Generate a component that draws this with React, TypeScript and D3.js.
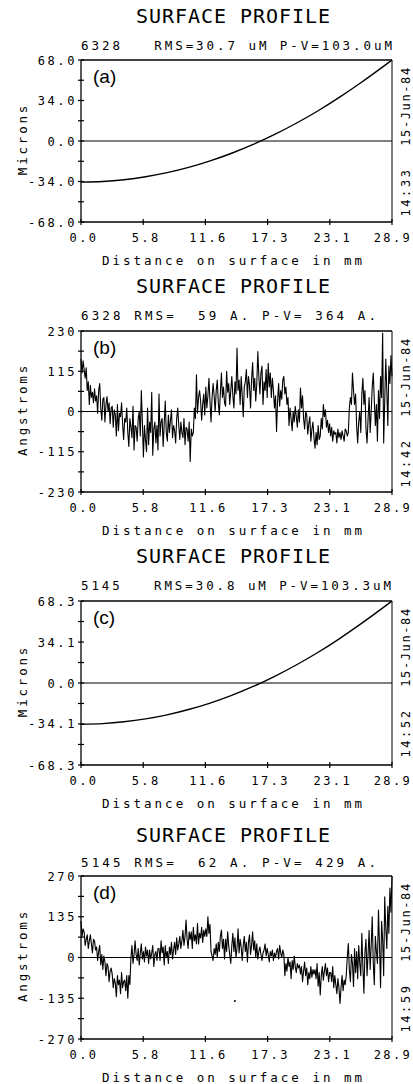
import React from 'react';
import * as d3 from 'd3';

const W = 413;
const H = 1084;
const X_MAX = 28.9;

const xTickValues = [0, 5.78, 11.56, 17.34, 23.12, 28.9];
const xTickLabels = ['0.0', '5.8', '11.6', '17.3', '23.1', '28.9'];

// Panel (a) – 6328, smooth profile (microns)
const aDist = [0, 2, 4, 6, 8, 10, 12, 14, 16, 18, 20, 22, 24, 26, 28.9];
const aMicrons = [-34.5, -34.0, -32.5, -30.0, -26.6, -22.2, -16.7, -10.3, -2.9, 5.5, 14.9, 25.2, 36.6, 48.9, 68.0];
const aYTicks = [68, 34, 0, -34, -68];
const aYLabels = ['68.0', '34.0', '0.0', '-34.0', '-68.0'];

// Panel (c) – 5145, smooth profile (microns)
const cDist = [0, 2, 4, 6, 8, 10, 12, 14, 16, 18, 20, 22, 24, 26, 28.9];
const cMicrons = [-34.3, -33.8, -32.3, -29.9, -26.5, -22.1, -16.7, -10.3, -2.9, 5.6, 15.0, 25.4, 36.8, 49.2, 68.3];
const cYTicks = [68.3, 34.1, 0, -34.1, -68.3];
const cYLabels = ['68.3', '34.1', '0.0', '-34.1', '-68.3'];

// Panel (b) – 6328, residual roughness (angstroms), evenly spaced samples
const bAngstroms = [
  150, 110, 145, 120, 95, 125, 60, 85, 20, 75, 40, 55, 25, 65, 30,
  45, -5, 60, 80, 10, -25, 35, 40, -30, 20, 43, 0, 25, -35, 10,
  15, -45, 5, -10, -70, 20, -55, -5, -15, 25, -35, -80, -20, -30, 10,
  -60, -100, -20, -45, -75, 15, -110, -40, -45, -85, -20, 0, -70, 60, -30,
  -130, -40, -80, -115, 10, -95, -30, -60, 55, -125, -50, -30, -90, -40, -110,
  50, -70, -30, -20, -100, -35, 30, -60, -85, -10, -60, -25, 5, -75, -40,
  -55, -90, -20, 10, -40, -80, -30, -60, -75, -20, -95, -45, -50, -85, -30,
  -143, -50, -70, -60, 10, -20, 105, -5, 40, 60, 30, -25, 20, 50, -10,
  70, 10, 45, 95, 30, -30, 40, 80, 45, 0, 60, 90, 25, -10, 55,
  110, 40, 70, 25, 15, 115, 55, 80, 20, 60, 100, 45, 10, 85, 50,
  181, 60, 90, 20, 100, 45, -15, 70, 85, 120, 40, 100, 75, 10, 90,
  140, 60, 95, 30, 80, 171, 100, 50, 110, 130, 20, 85, 60, 120, 40,
  138, 70, 110, 40, 95, 60, 10, 45, -57, 30, 80, 15, 60, 35, 90,
  100, 50, 70, 20, 40, -40, 10, -20, -55, 0, -30, 15, -15, -45, 5,
  -30, 67, 10, 45, -20, -50, 0, -10, -65, -35, -15, -85, -50, -30, -75,
  -105, -60, -95, -40, -80, -70, -20, -50, 20, -15, 5, -45, -25, -60, -35,
  -70, -45, -85, -55, -65, -60, -90, -50, -75, -60, -80, -55, -70, -85, -50,
  -55, -70, -60, 10, 40, 20, 110, 60, 20, 50, -40, -90, -30, 0, -60,
  50, 95, 20, 60, -50, -90, -20, 40, -60, 0, 70, 110, 30, -40, 20,
  -85, 60, -20, 100, 40, 224, -90, 30, 150, 60, -40, 130, 80, 160, 100,
];
const bYTicks = [230, 115, 0, -115, -230];
const bYLabels = ['230', '115', '0', '-115', '-230'];

// Panel (d) – 5145, residual roughness (angstroms), evenly spaced samples
const dAngstroms = [
  120, 70, 95, 85, 40, 60, 75, 30, 55, 75, 45, 15, 60, 55, 25,
  35, -10, 20, 40, -25, 10, -40, 5, -15, -60, -20, -30, -80, -45, -35,
  -55, -100, -70, -85, -130, -60, -90, -75, -120, -50, -100, -80, -75, -110, -60,
  -135, -60, -90, 0, 40, -20, 10, 55, 10, -10, 30, -25, 15, 45, -5,
  20, -15, 35, 5, 25, -20, 25, -5, 15, 40, -30, 10, 20, -10, 30,
  30, -10, 55, 15, 35, -25, 40, 0, 20, -20, 35, 10, 50, -5, 25,
  50, 10, 65, 25, 45, 70, 30, 55, 90, 40, 70, 124, 60, 30, 85,
  60, 85, 30, 100, 55, 75, 45, 113, 45, 80, 65, 100, 50, 90, 70,
  95, 70, 135, 80, 110, 20, 5, -10, 30, 10, 45, 0, 50, 20, 70,
  91, 30, 60, -5, 60, 20, 85, 40, 10, -20, 40, 80, 20, 65, 0,
  30, 95, 15, 60, 35, -10, 40, 70, 20, 50, -15, 50, 75, 10, 40,
  85, 25, 55, 0, 45, -5, 20, 35, 10, -10, 15, 25, 45, 5, 30,
  10, -15, 20, 5, 25, -10, 15, 0, 20, 30, -5, 40, 15, 0, 25,
  10, -60, -20, -45, 0, -30, -15, -70, -10, -40, 5, -30, -50, -20, -35,
  -25, -55, -30, -80, -45, -15, -60, -35, -90, -50, -70, -30, -65, -40, -55,
  -40, -70, -20, -95, -50, -124, -60, -30, -75, -45, -20, -60, -35, -80, -50,
  -50, -80, -30, -100, -60, -90, -120, -70, -100, -152, -100, -60, -110, -75, -90,
  -60, 0, 46, -40, -80, 10, -20, -96, 30, -50, 20, -70, 40, -20, -60,
  80, -30, -118, 20, 60, -60, 10, 90, -40, 40, 135, -20, -90, 70, 20,
  -20, 157, 40, -100, 120, 60, -60, 201, 100, 30, 170, 80, 230, 150, 270,
];
const dYTicks = [270, 135, 0, -135, -270];
const dYLabels = ['270', '135', '0', '-135', '-270'];
const dStrayDist = [14.3];
const dStrayValue = [-144];

const titles = ['SURFACE PROFILE', 'SURFACE PROFILE', 'SURFACE PROFILE', 'SURFACE PROFILE'];
const subtitles = [
  '6328   RMS=30.7 uM P-V=103.0uM',
  '6328 RMS=  59 A. P-V= 364 A.',
  '5145   RMS=30.8 uM P-V=103.3uM',
  '5145 RMS=  62 A. P-V= 429 A.',
];
const panelTags = ['(a)', '(b)', '(c)', '(d)'];
const yTitles = ['Microns', 'Angstroms', 'Microns', 'Angstroms'];
const dates = ['15-Jun-84', '15-Jun-84', '15-Jun-84', '15-Jun-84'];
const times = ['14:33', '14:42', '14:52', '14:59'];
const xTitle = 'Distance on surface in mm';

const evenDist = (n: number) => d3.range(n).map((i) => (i * X_MAX) / (n - 1));

const MONO = '"DejaVu Sans Mono", monospace';
const SANS = '"Liberation Sans", Arial, sans-serif';

type PanelCfg = {
  top: number;
  bottom: number;
  titleY: number;
  subY: number;
  subLen: number;
  max: number;
  dist: number[];
  vals: number[];
  smooth: boolean;
  yTicks: number[];
  yLabels: string[];
  idx: number;
  stray?: { x: number[]; y: number[] };
};

const L = 81;
const R = 392;

function Panel({ cfg }: { cfg: PanelCfg }) {
  const x = d3.scaleLinear().domain([0, X_MAX]).range([L, R]);
  const y = d3.scaleLinear().domain([-cfg.max, cfg.max]).range([cfg.bottom, cfg.top]);
  const pts: [number, number][] = cfg.dist.map((d, i) => [d, cfg.vals[i]]);
  const line = d3
    .line<[number, number]>()
    .x((d) => x(d[0]))
    .y((d) => y(d[1]))
    .curve(cfg.smooth ? d3.curveMonotoneX : d3.curveLinear);
  const minor = d3.pairs(cfg.yTicks).map(([a, b]) => (a + b) / 2);
  const mid = (cfg.top + cfg.bottom) / 2;
  const i = cfg.idx;
  return (
    <g>
      <text x={136} y={cfg.titleY} fontFamily={MONO} fontSize={20} textLength={194} lengthAdjust="spacing">
        {titles[i]}
      </text>
      <text
        x={81}
        y={cfg.subY}
        fontFamily={MONO}
        fontSize={12.5}
        textLength={cfg.subLen}
        lengthAdjust="spacing"
        style={{ whiteSpace: 'pre' }}
      >
        {subtitles[i]}
      </text>
      {/* frame */}
      <line x1={L} x2={R} y1={cfg.top} y2={cfg.top} stroke="#000" strokeWidth={1.3} />
      <line x1={L} x2={R} y1={cfg.bottom} y2={cfg.bottom} stroke="#000" strokeWidth={1.3} />
      <line x1={L} x2={L} y1={cfg.top} y2={cfg.bottom} stroke="#000" strokeWidth={1.3} />
      <line x1={R} x2={R} y1={cfg.top} y2={cfg.bottom} stroke="#000" strokeWidth={1} />
      {/* zero line */}
      <line x1={L} x2={R} y1={y(0)} y2={y(0)} stroke="#000" strokeWidth={1} />
      {/* y ticks */}
      {cfg.yTicks.concat(minor).map((t, k) => (
        <line key={'yt' + k} x1={L - 3} x2={L + 3} y1={y(t)} y2={y(t)} stroke="#000" strokeWidth={1.2} />
      ))}
      {cfg.yTicks.map((t, k) => (
        <text
          key={'yl' + k}
          x={77}
          y={y(t) + 4.5}
          textAnchor="end"
          fontFamily={MONO}
          fontSize={12}
          letterSpacing={2.6}
        >
          {cfg.yLabels[k]}
        </text>
      ))}
      {/* x ticks */}
      {xTickValues.map((t, k) => (
        <line key={'xt' + k} x1={x(t)} x2={x(t)} y1={cfg.bottom - 3} y2={cfg.bottom + 3} stroke="#000" strokeWidth={1.2} />
      ))}
      {xTickValues.map((t, k) => (
        <text
          key={'xl' + k}
          x={Math.min(x(t) + 3, 393)}
          y={cfg.bottom + 20}
          textAnchor="middle"
          fontFamily={MONO}
          fontSize={12}
          letterSpacing={2.4}
        >
          {xTickLabels[k]}
        </text>
      ))}
      <text x={102} y={cfg.bottom + 43} fontFamily={MONO} fontSize={12.5} textLength={260} lengthAdjust="spacing">
        {xTitle}
      </text>
      {/* y title */}
      <text
        transform={`translate(27, ${mid - 2}) rotate(-90)`}
        textAnchor="middle"
        fontFamily={MONO}
        fontSize={12.5}
        letterSpacing={2.8}
      >
        {yTitles[i]}
      </text>
      {/* date / time */}
      <text
        transform={`translate(410, ${cfg.top + 46}) rotate(-90)`}
        textAnchor="middle"
        fontFamily={MONO}
        fontSize={12}
        letterSpacing={1.6}
      >
        {dates[i]}
      </text>
      <text
        transform={`translate(410, ${cfg.top + 132}) rotate(-90)`}
        textAnchor="middle"
        fontFamily={MONO}
        fontSize={12}
        letterSpacing={2.6}
      >
        {times[i]}
      </text>
      {/* data */}
      <path d={line(pts) || ''} fill="none" stroke="#000" strokeWidth={cfg.smooth ? 1.4 : 1.1} strokeLinejoin="round" />
      {cfg.stray &&
        cfg.stray.x.map((sx, k) => <circle key={'s' + k} cx={x(sx)} cy={y(cfg.stray!.y[k])} r={1} fill="#000" />)}
      <text x={93} y={cfg.top + 23} fontFamily={SANS} fontSize={19}>
        {panelTags[i]}
      </text>
    </g>
  );
}

export default function App() {
  const panels: PanelCfg[] = [
    { idx: 0, top: 60, bottom: 222, titleY: 23, subY: 50, subLen: 311, max: 68, dist: aDist, vals: aMicrons, smooth: true, yTicks: aYTicks, yLabels: aYLabels },
    { idx: 1, top: 331, bottom: 492, titleY: 293, subY: 320, subLen: 295, max: 230, dist: evenDist(bAngstroms.length), vals: bAngstroms, smooth: false, yTicks: bYTicks, yLabels: bYLabels },
    { idx: 2, top: 601, bottom: 765, titleY: 563, subY: 590, subLen: 310, max: 68.3, dist: cDist, vals: cMicrons, smooth: true, yTicks: cYTicks, yLabels: cYLabels },
    { idx: 3, top: 876, bottom: 1039, titleY: 842, subY: 867, subLen: 295, max: 270, dist: evenDist(dAngstroms.length), vals: dAngstroms, smooth: false, yTicks: dYTicks, yLabels: dYLabels, stray: { x: dStrayDist, y: dStrayValue } },
  ];
  return (
    <svg
      width={W}
      height={H}
      viewBox={`0 0 ${W} ${H}`}
      style={{ position: 'absolute', left: 0, top: 0, background: '#fff' }}
    >
      <rect width={W} height={H} fill="#fff" />
      {panels.map((p) => (
        <Panel key={p.idx} cfg={p} />
      ))}
    </svg>
  );
}
